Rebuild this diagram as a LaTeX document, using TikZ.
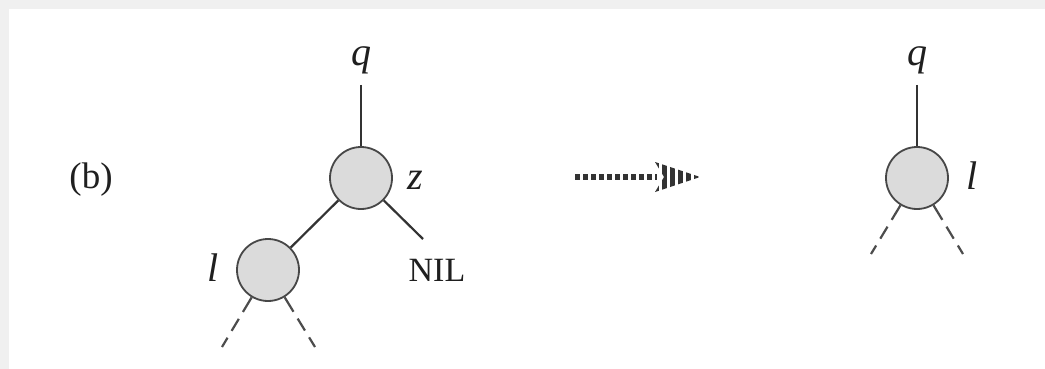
\documentclass[tikz,border=0pt]{standalone}
\usepackage{fontspec}
\setmainfont{Liberation Serif}
\begin{document}
\begin{tikzpicture}[x=1pt,y=-1pt,
  treenode/.style={circle, draw=black!72, fill=gray!28, line width=1.8pt,
                   minimum size=62pt, inner sep=0pt},
  edge/.style={draw=black!80, line width=2.2pt},
  stub/.style={draw=black!70, line width=2.2pt,
               dash pattern=on 17pt off 8pt on 14pt off 8pt on 14pt},
  lbl/.style={text=black!88, inner sep=0pt, font=\fontsize{40}{44}\selectfont\itshape},
  txt/.style={text=black!88, inner sep=0pt, font=\fontsize{37}{42}\selectfont}]
  % page and its grey frame
  \useasboundingbox (0,0) rectangle (1045,369);
  \fill[black!6] (0,0) rectangle (1045,369);
  \fill[white] (9,9) rectangle (1045,369);

  % panel label
  \node[txt] (tag) at (91,180) {(b)};

  % tree before the deletion
  \node[treenode] (z) at (361,178) {};
  \node[treenode] (l) at (268,270) {};
  \node[lbl] (qa) at (361,60) {q};
  \node[lbl] (za) at (415,180) {z};
  \node[lbl] (la) at (213,268) {l};
  \node[txt, font=\fontsize{34}{40}\selectfont] (nil) at (437,270) {NIL};
  \coordinate (qatop) at (361,85);
  \coordinate (nilend) at (423,239);
  \coordinate (lll) at (222,347);
  \coordinate (llr) at (315,347);
  \draw[edge] (qatop) -- (z);
  \draw[edge] (z) -- (l);
  \draw[edge] (z) -- (nilend);
  \draw[stub] (l) -- (lll);
  \draw[stub] (l) -- (llr);

  % tree after the deletion
  \node[treenode] (l2) at (917,178) {};
  \node[lbl] (qb) at (917,60) {q};
  \node[lbl] (lb) at (972,176) {l};
  \coordinate (qbtop) at (917,85);
  \coordinate (l2l) at (871,254);
  \coordinate (l2r) at (963,254);
  \draw[edge] (qbtop) -- (l2);
  \draw[stub] (l2) -- (l2l);
  \draw[stub] (l2) -- (l2r);

  % dotted transition arrow with a striped head
  \coordinate (arrS) at (575,177);
  \coordinate (arrM) at (657,177);
  \coordinate (arrE) at (700,177);
  \draw[black!80, line width=6pt, dash pattern=on 5pt off 3pt] (arrS) -- (arrM);
  \begin{scope}
    \clip (655,162) -- (arrE) -- (655,192) -- (664,177) -- cycle;
    \draw[black!80, line width=40pt, dash pattern=on 5pt off 3pt] (654,177) -- (arrE);
  \end{scope}
\end{tikzpicture}
\end{document}
